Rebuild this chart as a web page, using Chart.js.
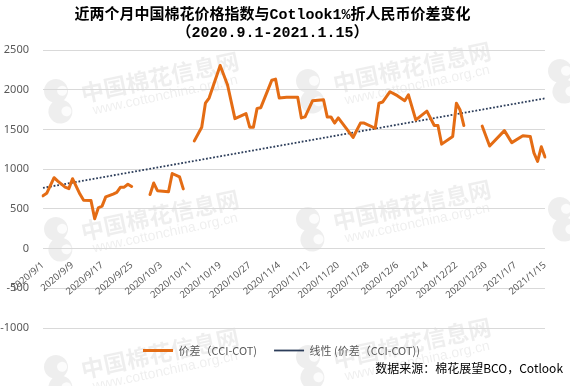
<!DOCTYPE html>
<html>
<head>
<meta charset="utf-8">
<script src="https://cdn.jsdelivr.net/npm/chart.js@4.4.1/dist/chart.umd.min.js"></script>
<style>
  html, body { margin: 0; padding: 0; background: #fff; }
  #wrap { width: 570px; height: 386px; }
</style>
</head>
<body>
<div id="wrap"><canvas id="spreadChart"></canvas></div>
<script>
// axis: every day from 2020/9/1 to 2021/1/15, label shown every 8 days
const firstDay = Date.UTC(2020, 8, 1);
const dayCount = 137;
const tickLabels = ['2020/9/1', '2020/9/9', '2020/9/17', '2020/9/25', '2020/10/3', '2020/10/11',
  '2020/10/19', '2020/10/27', '2020/11/4', '2020/11/12', '2020/11/20', '2020/11/28',
  '2020/12/6', '2020/12/14', '2020/12/22', '2020/12/30', '2021/1/7', '2021/1/15'];

// 价差 (CCI-COT); null = break in the line
const spreadDates = [
  '2020/9/1', '2020/9/2', '2020/9/4', '2020/9/5', '2020/9/7', '2020/9/8', '2020/9/9', '2020/9/11',
  '2020/9/12', '2020/9/14', '2020/9/15', '2020/9/16', '2020/9/17', '2020/9/18', '2020/9/20',
  '2020/9/21', '2020/9/22', '2020/9/23', '2020/9/24', '2020/9/25', '2020/9/27',
  '2020/9/30', '2020/10/1', '2020/10/2', '2020/10/5', '2020/10/6', '2020/10/8', '2020/10/9',
  '2020/10/10',
  '2020/10/12', '2020/10/14', '2020/10/15', '2020/10/16', '2020/10/19', '2020/10/21', '2020/10/23',
  '2020/10/26', '2020/10/27', '2020/10/28', '2020/10/29', '2020/10/30', '2020/11/2', '2020/11/3',
  '2020/11/4', '2020/11/6', '2020/11/9', '2020/11/10', '2020/11/11', '2020/11/13', '2020/11/16',
  '2020/11/17', '2020/11/18', '2020/11/19', '2020/11/20', '2020/11/24', '2020/11/26', '2020/11/27',
  '2020/11/30', '2020/12/1', '2020/12/2', '2020/12/4', '2020/12/6', '2020/12/8', '2020/12/9',
  '2020/12/11', '2020/12/14', '2020/12/16', '2020/12/17', '2020/12/18', '2020/12/21',
  '2020/12/22', '2020/12/23', '2020/12/24',
  '2020/12/26',
  '2020/12/29', '2020/12/31', '2021/1/4', '2021/1/6', '2021/1/9', '2021/1/11', '2021/1/12',
  '2021/1/13', '2021/1/14', '2021/1/15'
];
const spreadValues = [
  664, 695, 892, 850, 773, 755, 880, 686,
  609, 605, 375, 514, 535, 651, 686,
  708, 773, 773, 810, 781, null,
  680, 825, 729, 716, 945, 902, 751,
  null,
  1356, 1528, 1830, 1895, 2305, 2060, 1636,
  1700, 1528, 1528, 1765, 1774, 2120, 2133,
  1895, 1904, 1904, 1645, 1658, 1861, 1874,
  1658, 1658, 1580, 1645, 1399, 1580, 1580,
  1515, 1830, 1845, 1975, 1925, 1861, 1935,
  1620, 1730, 1550, 1550, 1315, 1412,
  1830, 1744, 1550,
  null,
  1541, 1291, 1485, 1334, 1420, 1412, 1204,
  1097, 1282, 1153
];

// 线性 trend line, ends
const trendDates = ['2020/9/1', '2021/1/15'];
const trendValues = [764, 1891];

const yMin = -1000, yMax = 2500, yStep = 500;

const dayLabels = [];
for (let i = 0; i < dayCount; i++) {
  const d = new Date(firstDay + i * 86400000);
  dayLabels.push(d.getUTCFullYear() + '/' + (d.getUTCMonth() + 1) + '/' + d.getUTCDate());
}

const cjk = '"Noto Sans CJK SC", "Noto Sans", sans-serif';

// faint site watermark tiled behind the chart
const watermark = {
  id: 'watermark',
  beforeDraw(chart) {
    const ctx = chart.ctx;
    const spots = [[62, 100], [314, 90], [566, 80], [62, 238], [314, 228], [566, 218], [62, 376], [314, 366]];
    ctx.save();
    spots.forEach(([x, y]) => {
      ctx.save();
      ctx.translate(x, y);
      ctx.rotate(-0.21);
      ctx.fillStyle = 'rgba(0,0,0,0.065)';
      ctx.beginPath();
      ctx.arc(-4, -10, 12, 0, Math.PI * 2);
      ctx.arc(-4, 11, 12, 0, Math.PI * 2);
      ctx.fill();
      ctx.fillStyle = 'rgba(255,255,255,0.8)';
      ctx.beginPath();
      ctx.arc(2, -9, 5, 0, Math.PI * 2);
      ctx.arc(2, 12, 5, 0, Math.PI * 2);
      ctx.fill();
      ctx.fillStyle = 'rgba(0,0,0,0.065)';
      ctx.font = 'bold 23px ' + cjk;
      ctx.fillText('中国棉花信息网', 20, -2);
      ctx.font = '14px "Liberation Sans", sans-serif';
      ctx.fillText('www.cottonchina.org.cn', 28, 17);
      ctx.restore();
    });
    ctx.restore();
  }
};

// nudge the legend a little to the right, as in the original
const legendShift = {
  id: 'legendShift',
  afterLayout(chart) {
    if (chart.legend) {
      chart.legend.left += 9;
      chart.legend.right += 9;
    }
  }
};

const sourceNote = {
  id: 'sourceNote',
  afterDraw(chart) {
    const ctx = chart.ctx;
    ctx.save();
    ctx.fillStyle = '#000';
    ctx.font = '12px ' + cjk;
    ctx.textAlign = 'right';
    ctx.textBaseline = 'middle';
    ctx.fillText('数据来源：棉花展望BCO，Cotlook', 563, 368);
    ctx.restore();
  }
};

new Chart(document.getElementById('spreadChart'), {
  type: 'line',
  data: {
    labels: dayLabels,
    datasets: [{
      label: '价差（CCI-COT)',
      data: spreadDates.map((d, i) => ({ x: d, y: spreadValues[i] })),
      borderColor: '#E46C14',
      backgroundColor: '#E46C14',
      borderWidth: 3,
      pointRadius: 0,
      pointStyle: 'line',
      tension: 0,
      spanGaps: false,
      borderJoinStyle: 'round',
      borderCapStyle: 'round'
    }, {
      label: '线性 (价差（CCI-COT))',
      data: trendDates.map((d, i) => ({ x: d, y: trendValues[i] })),
      borderColor: '#2C3D5A',
      backgroundColor: '#2C3D5A',
      borderWidth: 1.8,
      borderDash: [1.8, 1.8],
      pointRadius: 0,
      pointStyle: 'line'
    }]
  },
  options: {
    responsive: true,
    maintainAspectRatio: false,
    animation: false,
    layout: { padding: { left: 0, right: 25, top: 0, bottom: 20 } },
    plugins: {
      tooltip: { enabled: false },
      title: {
        display: true,
        text: ['近两个月中国棉花价格指数与Cotlook1%折人民币价差变化', '（2020.9.1-2021.1.15）'],
        color: '#000',
        font: { family: '"Liberation Mono", "Noto Sans CJK SC", monospace', size: 15, weight: 'bold', lineHeight: 1.2 },
        padding: { top: 6, bottom: 8 }
      },
      legend: {
        position: 'bottom',
        labels: {
          usePointStyle: true,
          pointStyleWidth: 30,
          boxHeight: 8,
          padding: 17,
          color: '#595959',
          font: { family: cjk, size: 11 }
        }
      }
    },
    scales: {
      x: {
        type: 'category',
        position: { y: 0 },
        offset: false,
        grid: { display: false },
        border: { display: false },
        ticks: {
          autoSkip: false,
          maxRotation: 40,
          minRotation: 40,
          padding: 3,
          color: '#595959',
          font: { family: '"Noto Sans", sans-serif', size: 9.5 },
          callback: function (v) {
            const lab = this.getLabelForValue(v);
            return tickLabels.includes(lab) ? lab : null;
          }
        }
      },
      y: {
        min: yMin,
        max: yMax,
        afterFit: (scale) => { scale.width = 43; },
        grid: { color: '#d9d9d9', drawTicks: false },
        border: { display: false },
        ticks: {
          stepSize: yStep,
          padding: 14,
          color: '#595959',
          font: { family: '"Noto Sans", sans-serif', size: 11 },
          callback: (v) => String(v)
        }
      }
    }
  },
  plugins: [watermark, legendShift, sourceNote]
});
</script>
</body>
</html>
